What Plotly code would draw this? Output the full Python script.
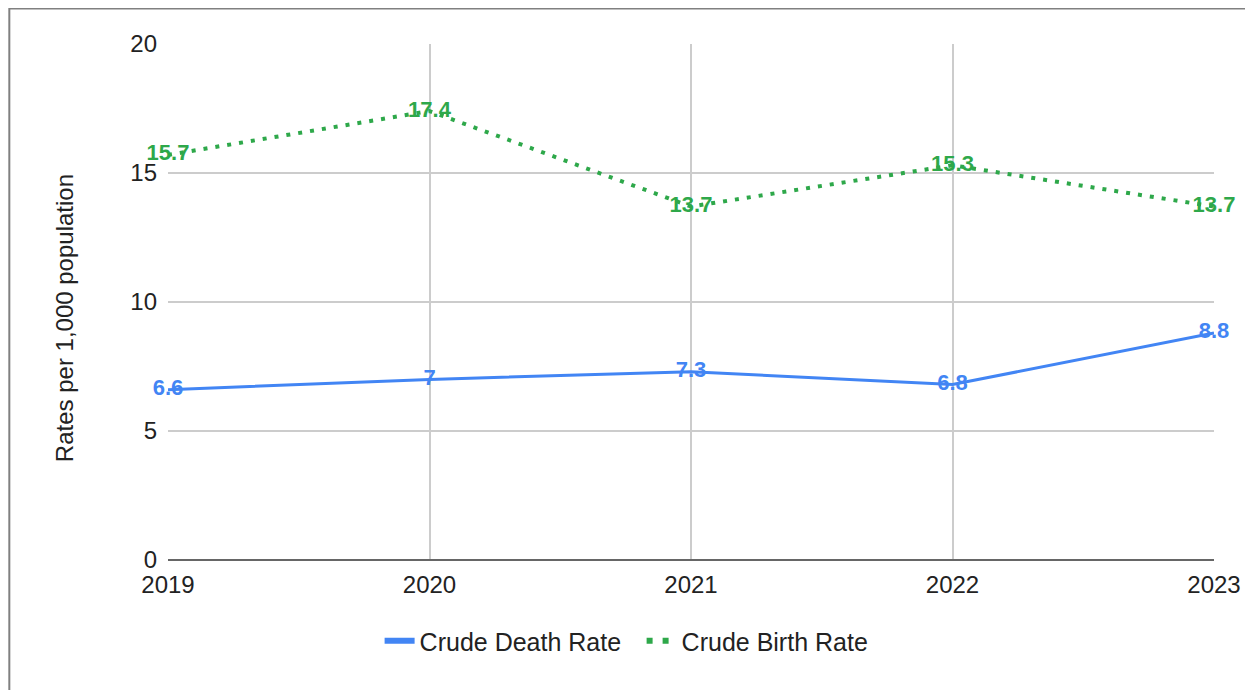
import plotly.graph_objects as go

years = [2019, 2020, 2021, 2022, 2023]
death_rate = [6.6, 7.0, 7.3, 6.8, 8.8]
birth_rate = [15.7, 17.4, 13.7, 15.3, 13.7]
death_labels = ["6.6", "7", "7.3", "6.8", "8.8"]
birth_labels = ["15.7", "17.4", "13.7", "15.3", "13.7"]
y_ticks = [0, 5, 10, 15, 20]
series_names = ["Crude Death Rate", "Crude Birth Rate"]

BLUE = "#4285F4"
GREEN = "#2EA84A"
FONT = "Liberation Sans, Arial, sans-serif"

fig = go.Figure()
fig.add_trace(go.Scatter(
    x=years, y=death_rate, name=series_names[0], mode="lines+text", showlegend=False,
    line=dict(color=BLUE, width=3), text=death_labels, textposition="middle center",
    textfont=dict(color=BLUE, size=22, family=FONT, weight="bold"),
    cliponaxis=False,
))
fig.add_trace(go.Scatter(
    x=years, y=birth_rate, name=series_names[1], mode="lines+text", showlegend=False,
    line=dict(color=GREEN, width=4, dash="4px,8px"), text=birth_labels, textposition="middle center",
    textfont=dict(color=GREEN, size=22, family=FONT, weight="bold"),
    cliponaxis=False,
))
# legend-only entries (styled like the reference's legend keys)
fig.add_trace(go.Scatter(x=[None], y=[None], name=series_names[0], mode="lines",
                         line=dict(color=BLUE, width=6)))
fig.add_trace(go.Scatter(x=[None], y=[None], name=series_names[1], mode="lines",
                         line=dict(color=GREEN, width=6, dash="6px,10px")))

fig.update_layout(
    width=1245, height=682,
    margin=dict(l=160, r=37, t=36, b=130),
    paper_bgcolor="white", plot_bgcolor="white",
    font=dict(family=FONT, color="#222", size=24),
    showlegend=True,
    legend=dict(orientation="h", x=0.2023, xanchor="left", y=-0.157, yanchor="middle",
                font=dict(size=25, color="#222"), entrywidth=217, entrywidthmode="pixels",
                bgcolor="rgba(0,0,0,0)"),
    xaxis=dict(range=[2019, 2023], tickvals=years, ticktext=[str(y) for y in years],
               showgrid=True, gridcolor="#cccccc", gridwidth=2, zeroline=False,
               showline=False, ticks="", ticklabelstandoff=8,
               tickfont=dict(size=24, color="#222")),
    yaxis=dict(range=[0, 20], tickvals=y_ticks, showgrid=True, gridcolor="#cccccc", gridwidth=2,
               zeroline=False, showline=False, ticks="", ticklabelstandoff=10,
               tickfont=dict(size=24, color="#222")),
    annotations=[dict(text="Rates per 1,000 population", xref="paper", yref="paper",
                      x=-0.0983, y=0.469, xanchor="center", yanchor="middle",
                      textangle=-90, showarrow=False, font=dict(size=24, color="#222"))],
    shapes=[
        dict(type="line", xref="paper", yref="paper", x0=0, x1=1, y0=0, y1=0,
             line=dict(color="#666666", width=2)),
        dict(type="rect", xref="paper", yref="paper", x0=-0.1517, x1=1.06, y0=-0.3, y1=1.0688,
             line=dict(color="#808080", width=2), fillcolor="rgba(0,0,0,0)", layer="below"),
        dict(type="line", xref="paper", yref="paper", x0=1.0324, x1=1.0324, y0=-0.3, y1=1.0688,
             line=dict(color="#e4e4e4", width=1), layer="below"),
    ],
)

fig.write_html("out.html")
